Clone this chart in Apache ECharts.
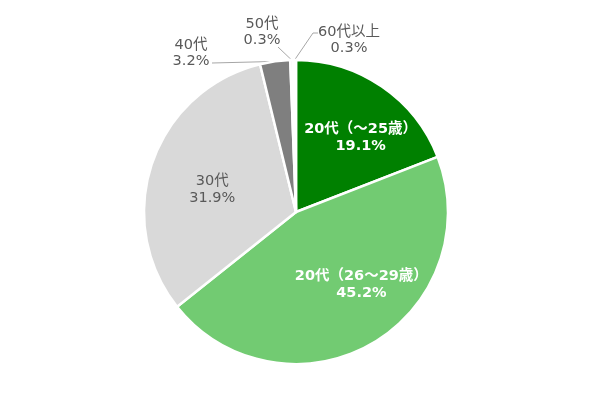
<!DOCTYPE html>
<html><head><meta charset="utf-8">
<script src="https://cdn.jsdelivr.net/npm/echarts@6/dist/echarts.min.js"></script>
<style>html,body{margin:0;padding:0;background:#fff}#c{width:600px;height:400px}</style>
</head><body><div id="c"></div>
<script>
const categories = ['20代（～25歳）','20代（26～29歳）','30代','40代','50代','60代以上'];
const values = [19.1, 45.2, 31.9, 3.2, 0.3, 0.3];
const colors = ['#008000','#72CB72','#D9D9D9','#7F7F7F','#F2F2F2','#FFFFFF'];
const insideIdx = [0,1,2];

const CX = 296, CY = 212, R = 152;
// label placement (offsets from pie centre), style only
const insideShift = {0:[20,-9], 1:[26,4], 2:[-9,3]};
const outsideText = {3:[-105,-159], 4:[-34,-180], 5:[53,-172]};
const outsideBend = {3:[-84,-149], 4:[-18,-165], 5:[17,-179]};

const chart = echarts.init(document.getElementById('c'));
const font = '"DejaVu Sans", "Noto Sans CJK JP", sans-serif';
const data = categories.map((n,i)=>{
  const inside = insideIdx.includes(i);
  return {
    name:n, value:values[i],
    itemStyle:{color:colors[i]},
    label: inside ? {
      show:true, position:'inside',
      color: i===2 ? '#595959' : '#fff',
      fontWeight: i===2 ? 'normal' : 'bold',
      fontSize:14.5, fontFamily:font, lineHeight:17
    } : {
      show:true, position:'outside', color:'#595959', fontSize:14.5, fontFamily:font, lineHeight:16
    },
    labelLine: inside ? {show:false} : {show:true, lineStyle:{color:'#A6A6A6', width:1}}
  };
});
chart.setOption({
  animation:false,
  series:[{
    type:'pie',
    center:[CX,CY],
    radius:R,
    startAngle:90,
    clockwise:true,
    avoidLabelOverlap:false,
    minShowLabelAngle:0,
    itemStyle:{borderColor:'#fff', borderWidth:2.5},
    label:{formatter: p => p.name + '\n' + p.value.toFixed(1) + '%', align:'center'},
    labelLine:{length:8, length2:10},
    labelLayout: function(p){
      const i = p.dataIndex;
      if (insideShift[i]) {
        return {dx: insideShift[i][0], dy: insideShift[i][1], hideOverlap:false};
      }
      const t = outsideText[i], b = outsideBend[i];
      const pts = p.labelLinePoints || [];
      const start = pts[0] || [CX + b[0], CY + b[1]];
      return {
        x: CX + t[0], y: CY + t[1], align:'center', verticalAlign:'middle',
        hideOverlap:false, moveOverlap:null,
        labelLinePoints: [start, [CX + b[0], CY + b[1]], [CX + b[0] + (i===5?5:0), CY + b[1]]]
      };
    },
    data:data
  }]
});
</script></body></html>
